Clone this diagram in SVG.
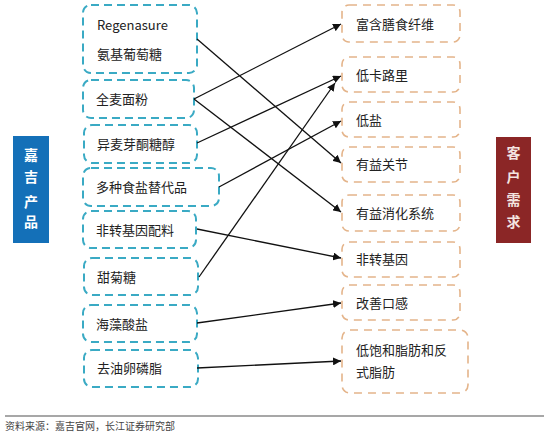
<svg xmlns="http://www.w3.org/2000/svg" width="550" height="434" viewBox="0 0 550 434">
<style>
.lb{fill:#fff;stroke:#3aaac4;stroke-width:2;stroke-dasharray:8 5}
.rb{fill:#fff;stroke:#e4b48a;stroke-width:1.6;stroke-dasharray:8 6}
.t{font-family:"Noto Sans CJK SC","Noto Sans",sans-serif;font-size:13px;fill:#222}
.side{font-family:"Noto Sans CJK SC",sans-serif;font-size:14px;font-weight:bold;text-anchor:middle}
.c{stroke:#111;stroke-width:1.3;fill:none;marker-end:url(#ah)}
</style>
<defs>
<marker id="ah" viewBox="0 0 10 10" refX="10" refY="5" markerWidth="8" markerHeight="8" markerUnits="userSpaceOnUse" orient="auto">
<path d="M0,0 L10,5 L0,10 z" fill="#111"/>
</marker>
</defs>
<rect width="550" height="434" fill="#fff"/>
<g id="side-left">
<rect x="13" y="136" width="36" height="107" fill="#1470b8"/>
<text class="side" fill="#fff" x="31" y="160">嘉</text>
<text class="side" fill="#fff" x="31" y="182">吉</text>
<text class="side" fill="#fff" x="31" y="207">产</text>
<text class="side" fill="#fff" x="31" y="227">品</text>
</g>
<g id="side-right">
<rect x="496" y="137" width="35" height="106" fill="#8b2626"/>
<text class="side" fill="#f4e4e0" x="513.5" y="158">客</text>
<text class="side" fill="#f4e4e0" x="513.5" y="182">户</text>
<text class="side" fill="#f4e4e0" x="513.5" y="205">需</text>
<text class="side" fill="#f4e4e0" x="513.5" y="227">求</text>
</g>
<g id="l1"><rect class="lb" x="83" y="5" width="114" height="68" rx="8"/><text class="t" x="97" y="30">Regenasure</text><text class="t" x="97" y="59">氨基葡萄糖</text></g>
<g id="l2"><rect class="lb" x="83" y="80" width="111" height="38" rx="8"/><text class="t" x="96" y="104">全麦面粉</text></g>
<g id="l3"><rect class="lb" x="84" y="125" width="113" height="38" rx="8"/><text class="t" x="97" y="149">异麦芽酮糖醇</text></g>
<g id="l4"><rect class="lb" x="83" y="168" width="136" height="38" rx="8"/><text class="t" x="96" y="192">多种食盐替代品</text></g>
<g id="l5"><rect class="lb" x="83" y="211" width="113" height="37" rx="8"/><text class="t" x="96" y="235">非转基因配料</text></g>
<g id="l6"><rect class="lb" x="84" y="258" width="114" height="37" rx="8"/><text class="t" x="97" y="282">甜菊糖</text></g>
<g id="l7"><rect class="lb" x="83" y="305" width="114" height="37" rx="8"/><text class="t" x="96" y="329">海藻酸盐</text></g>
<g id="l8"><rect class="lb" x="84" y="350" width="114" height="37" rx="8"/><text class="t" x="97" y="373">去油卵磷脂</text></g>
<g id="r1"><rect class="rb" x="342" y="5" width="118" height="37" rx="7"/><text class="t" x="356" y="29">富含膳食纤维</text></g>
<g id="r2"><rect class="rb" x="342" y="57" width="118" height="35" rx="7"/><text class="t" x="356" y="80">低卡路里</text></g>
<g id="r3"><rect class="rb" x="342" y="102" width="118" height="35" rx="7"/><text class="t" x="356" y="125">低盐</text></g>
<g id="r4"><rect class="rb" x="342" y="147" width="118" height="35" rx="7"/><text class="t" x="356" y="169">有益关节</text></g>
<g id="r5"><rect class="rb" x="342" y="195" width="118" height="36" rx="7"/><text class="t" x="356" y="218">有益消化系统</text></g>
<g id="r6"><rect class="rb" x="342" y="242" width="118" height="35" rx="7"/><text class="t" x="356" y="264">非转基因</text></g>
<g id="r7"><rect class="rb" x="342" y="285" width="118" height="35" rx="7"/><text class="t" x="356" y="308">改善口感</text></g>
<g id="r8"><rect class="rb" x="342" y="330" width="126" height="63" rx="8"/><text class="t" x="356" y="355">低饱和脂肪和反</text><text class="t" x="356" y="377">式脂肪</text></g>
<g id="connectors">
<line class="c" x1="197" y1="39" x2="341" y2="163"/>
<line class="c" x1="194" y1="99" x2="341" y2="24"/>
<line class="c" x1="194" y1="99" x2="341" y2="212"/>
<line class="c" x1="197" y1="143" x2="341" y2="76"/>
<line class="c" x1="219" y1="187" x2="341" y2="121"/>
<line class="c" x1="197" y1="229" x2="341" y2="258"/>
<line class="c" x1="199" y1="277" x2="335" y2="83"/>
<line class="c" x1="197" y1="323" x2="341" y2="303"/>
<line class="c" x1="197" y1="368" x2="341" y2="361"/>
</g>
<g id="footer">
<line x1="5" y1="416" x2="544" y2="416" stroke="#8a8a8a" stroke-width="1.5"/>
<text x="5" y="430" font-family="Noto Sans CJK SC,sans-serif" font-size="10" fill="#444">资料来源：嘉吉官网，长江证券研究部</text>
</g>
</svg>
